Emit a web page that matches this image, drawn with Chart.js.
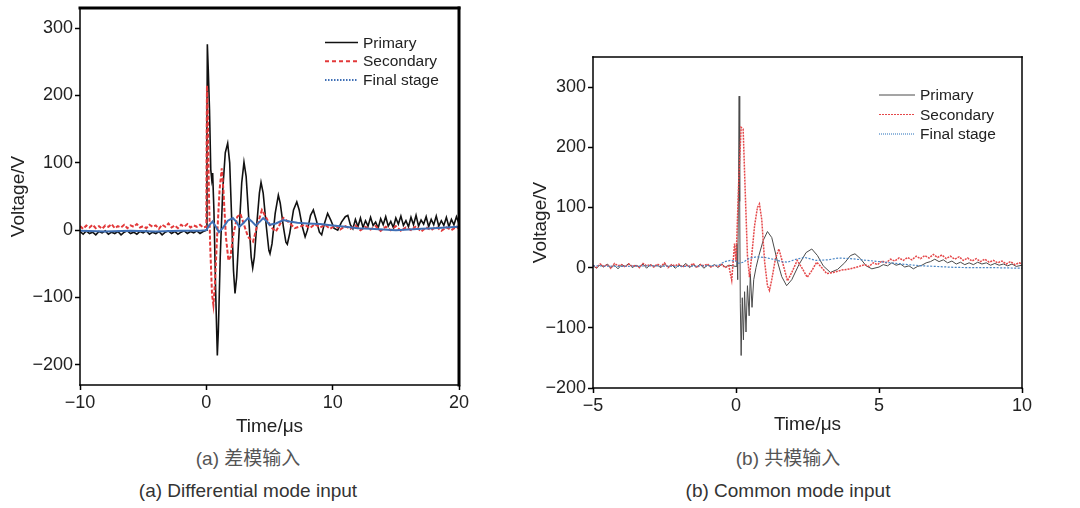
<!DOCTYPE html>
<html>
<head>
<meta charset="utf-8">
<script src="https://cdn.jsdelivr.net/npm/chart.js@4.4.1/dist/chart.umd.min.js"></script>
<style>
  body { margin: 0; background: #fff; width: 1080px; height: 508px; position: relative; overflow: hidden;
         font-family: "Liberation Sans", Arial, sans-serif; }
  #boxA { position: absolute; left: 0; top: 0; }
  #boxB { position: absolute; left: 520px; top: 0; }
  .cap { position: absolute; width: 440px; text-align: center; font-size: 19px; color: #333; line-height: 22px; }
  .zh { font-family: "Liberation Sans", "Noto Sans CJK SC", sans-serif; color: #555; }
</style>
</head>
<body>
<canvas id="boxA" width="470" height="440"></canvas>
<canvas id="boxB" width="560" height="440"></canvas>
<div class="cap zh" style="left:28px; top:448px;">(a) 差模输入</div>
<div class="cap" style="left:28px; top:480px;">(a) Differential mode input</div>
<div class="cap zh" style="left:568px; top:448px;">(b) 共模输入</div>
<div class="cap" style="left:568px; top:480px;">(b) Common mode input</div>
<script>
// Noms des séries et graduations
const seriesNames = ['Primary', 'Secondary', 'Final stage'];
const diffTicksX = [-10, 0, 10, 20];
const diffTicksY = [-200, -100, 0, 100, 200, 300];
const commTicksX = [-5, 0, 5, 10];
const commTicksY = [-200, -100, 0, 100, 200, 300];

// (a) Differential mode - Primary
const diffPrimaryT = [-10, -9.75, -9.5, -9.25, -9, -8.75, -8.5, -8.25, -8, -7.75, -7.5, -7.25, -7, -6.75, -6.5, -6.25, -6, -5.75, -5.5, -5.25,
  -5, -4.75, -4.5, -4.25, -4, -3.75, -3.5, -3.25, -3, -2.75, -2.5, -2.25, -2, -1.75, -1.5, -1.25, -1, -0.75, -0.5, -0.25,
  0, 0.05, 0.08, 0.15, 0.25, 0.35, 0.43, 0.5, 0.6, 0.75, 0.87, 0.95, 1.1, 1.3, 1.5, 1.69, 1.85, 2.0, 2.15, 2.27, 2.4, 2.6, 2.8, 2.98,
  3.15, 3.35, 3.55, 3.67, 3.8, 4.0, 4.2, 4.33, 4.5, 4.75, 4.95, 5.04, 5.2, 5.45, 5.7, 5.85, 6.1, 6.3, 6.41, 6.6, 6.9, 7.16, 7.35, 7.6,
  7.82, 8.0, 8.25, 8.47, 8.7, 8.95, 9.13, 9.35, 9.6, 9.85, 10.1, 10.4, 10.7, 11.0, 11.2,
  11.4, 11.6, 11.8, 12.0, 12.2, 12.4, 12.6, 12.8, 13.0, 13.2, 13.4, 13.6, 13.8, 14.0, 14.2, 14.4, 14.6, 14.8, 15.0, 15.2, 15.4, 15.6,
  15.8, 16.0, 16.2, 16.4, 16.6, 16.8, 17.0, 17.2, 17.4, 17.6, 17.8, 18.0, 18.2, 18.4, 18.6, 18.8, 19.0, 19.2, 19.4, 19.6, 19.8, 20];
const diffPrimaryV = [-2, -6, -1, -5, -3, -7, -2, -4, -1, -6, -3, -5, -2, -7, -3, -1, -5, -3, -6, -2,
  -4, -1, -6, -3, -5, -2, -7, -3, -1, -5, -2, -6, -3, -1, -5, -2, -4, -1, -5, -2,
  0, 150, 276, 240, 180, 90, 75, 85, 30, -100, -186, -150, -40, 60, 115, 129, 100, 20, -60, -94, -70, 0, 70, 101,
  80, 20, -40, -56, -40, 10, 55, 71, 55, 5, -30, -35, -20, 25, 52, 40, 5, -18, -21, -5, 30, 42, 30, 5,
  -10, 0, 22, 30, 15, -3, -7, 10, 25, 15, 3, 0, 12, 20, 22,
  8, 2, 16, 5, 18, 4, 14, 6, 19, 7, 12, 3, 17, 8, 20, 6, 13, 4, 18, 9, 21, 7,
  14, 5, 19, 8, 22, 6, 15, 9, 20, 5, 16, 8, 21, 6, 14, 7, 19, 5, 16, 8, 20, 10];

// (a) Differential mode - Secondary
const diffSecondaryT = [-10, -9.75, -9.5, -9.25, -9, -8.75, -8.5, -8.25, -8, -7.75, -7.5, -7.25, -7, -6.75, -6.5, -6.25, -6, -5.75, -5.5, -5.25,
  -5, -4.75, -4.5, -4.25, -4, -3.75, -3.5, -3.25, -3, -2.75, -2.5, -2.25, -2, -1.75, -1.5, -1.25, -1, -0.75, -0.5, -0.25,
  0, 0.02, 0.05, 0.12, 0.2, 0.3, 0.45, 0.56, 0.68, 0.85, 1.05, 1.22, 1.35, 1.55, 1.75, 1.9, 2.15, 2.45, 2.7, 2.95, 3.3, 3.7,
  4.0, 4.4, 4.7, 5.1, 5.5, 5.8, 6.1, 6.5, 7.0, 7.5,
  7.8, 8.2, 8.6, 9.0, 9.4, 9.8, 10.2, 10.6, 11.0, 11.4, 11.8, 12.2, 12.6, 13.0, 13.4, 13.8, 14.2, 14.6, 15.0, 15.4, 15.8,
  16.2, 16.6, 17.0, 17.4, 17.8, 18.2, 18.6, 19.0, 19.4, 19.8, 20];
const diffSecondaryV = [6, 2, 7, 4, 8, 3, 6, 2, 7, 5, 9, 3, 6, 4, 8, 3, 7, 5, 9, 4,
  6, 3, 8, 5, 7, 2, 8, 5, 10, 4, 7, 3, 8, 5, 9, 4, 7, 5, 8, 4,
  5, 120, 215, 170, 60, -20, -95, -111, -80, -10, 60, 92, 60, -10, -45, -40, -5, 20, 24, 10, -10, -17,
  5, 30, 20, 5, -2, 8, 18, 12, 3, 6,
  8, 3, 9, 4, 8, 2, 7, 1, 6, 2, 7, 0, 5, 1, 6, -1, 5, 0, 6, -1, 4,
  0, 6, -2, 4, 0, 5, -1, 4, 0, 5, 2];

// (a) Differential mode - Final stage
const diffFinalT = [-10, -8, -6, -4, -2, -0.5, 0, 0.25, 0.5, 0.75, 1.0, 1.3, 1.7, 2.1, 2.4, 2.6, 2.9, 3.3, 3.6, 3.9, 4.2, 4.5, 4.8,
  5.0, 5.5, 6.1, 6.6, 7.2, 8, 9, 10, 11, 12, 13, 14, 15, 16, 17, 18, 19, 20];
const diffFinalV = [-1, -2, -1, -2, -1, -1, 0, 8, 13, 5, -3, 3, 14, 18, 12, 5, 10, 18, 13, 7, 12, 18, 13,
  8, 10, 15, 13, 11, 10, 9, 7, 5, 3, 2, 1, 0, 1, 2, 3, 4, 5];

// (b) Common mode - Primary
const commPrimaryT = [-5, -4.875, -4.75, -4.625, -4.5, -4.375, -4.25, -4.125, -4, -3.875, -3.75, -3.625, -3.5, -3.375, -3.25, -3.125,
  -3, -2.875, -2.75, -2.625, -2.5, -2.375, -2.25, -2.125, -2, -1.875, -1.75, -1.625, -1.5, -1.375, -1.25, -1.125,
  -1, -0.875, -0.75, -0.625, -0.5, -0.375, -0.25, -0.125,
  0, 0.03, 0.06, 0.09, 0.11, 0.13, 0.15, 0.18, 0.22, 0.26, 0.3, 0.35, 0.4, 0.46, 0.5, 0.56, 0.62, 0.7, 0.8, 0.95, 1.1, 1.25, 1.45,
  1.6, 1.77, 1.95, 2.2, 2.45, 2.65, 2.85, 3.05, 3.3, 3.55, 3.8, 4.0, 4.16, 4.35, 4.55, 4.75,
  5.0, 5.15, 5.3, 5.45, 5.6, 5.75, 5.9, 6.05, 6.2, 6.35, 6.5, 6.65, 6.8, 6.95, 7.1, 7.25, 7.4, 7.55, 7.7, 7.85,
  8.0, 8.15, 8.3, 8.45, 8.6, 8.75, 8.9, 9.05, 9.2, 9.35, 9.5, 9.65, 9.8, 10];
const commPrimaryV = [3, -1, 5, 1, 6, 0, 4, -2, 5, 2, 7, 0, 4, 1, 6, -1,
  5, 2, 4, 0, 6, 1, 5, -1, 4, 2, 7, 0, 5, 1, 6, -1,
  4, 2, 5, 0, 6, 1, 4, 3,
  2, 40, -20, 150, 285, 110, -60, -146, -50, -120, -40, -107, -30, -80, -10, -66, -20, 0, 20, 45, 60, 50, 10,
  -15, -30, -20, 5, 25, 31, 20, 3, -8, -3, 8, 20, 23, 15, 3, -2,
  1, 5, 3, 8, 4, 6, 1, 3, -2, 2, 4, 8, 10, 14, 10, 13, 8, 11, 6, 9,
  5, 8, 5, 9, 6, 8, 4, 7, 4, 6, 3, 6, 2, 4];

// (b) Common mode - Secondary
const commSecondaryT = [-5, -4.875, -4.75, -4.625, -4.5, -4.375, -4.25, -4.125, -4, -3.875, -3.75, -3.625, -3.5, -3.375, -3.25, -3.125,
  -3, -2.875, -2.75, -2.625, -2.5, -2.375, -2.25, -2.125, -2, -1.875, -1.75, -1.625, -1.5, -1.375, -1.25, -1.125,
  -1, -0.875, -0.75, -0.625, -0.5, -0.375, -0.25,
  -0.15, -0.05, 0, 0.1, 0.18, 0.25, 0.32, 0.4, 0.47, 0.55, 0.65, 0.75, 0.82, 0.9, 1.0, 1.1, 1.17, 1.25, 1.38, 1.5, 1.62,
  1.8, 1.95, 2.14, 2.3, 2.49, 2.65, 2.82, 3.0, 3.17, 3.4, 3.7, 4.0, 4.3,
  4.5, 4.65, 4.8, 4.95, 5.1, 5.25, 5.4, 5.55, 5.7, 5.85, 6.0, 6.15, 6.3, 6.45, 6.6, 6.75, 6.9, 7.05, 7.2, 7.35,
  7.5, 7.65, 7.8, 7.95, 8.1, 8.25, 8.4, 8.55, 8.7, 8.85, 9.0, 9.15, 9.3, 9.45, 9.6, 9.75, 9.9, 10];
const commSecondaryV = [4, 0, 6, 2, 5, -1, 7, 3, 5, 1, 6, 2, 4, 0, 7, 3,
  5, 1, 6, 2, 8, 0, 5, 3, 6, 1, 4, 2, 7, 0, 5, 3,
  6, 1, 4, 2, 5, 0, 3,
  -21, 40, 10, 150, 233, 230, 130, 20, -16, 20, 70, 100, 106, 80, 10, -30, -38, -20, 15, 31, 10,
  -22, -8, 12, 0, -16, -5, 9, 0, -10, -8, -4, -2, 2,
  5, 2, 8, 5, 11, 8, 14, 11, 16, 12, 17, 13, 19, 15, 20, 16, 22, 17, 21, 15,
  19, 14, 18, 12, 16, 11, 15, 10, 14, 9, 12, 8, 11, 6, 10, 5, 8, 6];

// (b) Common mode - Final stage
const commFinalT = [-5, -4, -3, -2, -1, -0.6, -0.4, -0.2, 0, 0.1, 0.25, 0.45, 0.7, 1.0, 1.3, 1.6, 1.8, 2.1, 2.4, 2.8, 3.2, 3.6,
  4.0, 4.4, 4.8, 5.2, 5.6, 6.0, 6.5, 7.0, 7.6, 8.2, 9.0, 10];
const commFinalV = [3, 2, 3, 2, 3, 4, 10, 12, 11, 7, 9, 15, 18, 17, 14, 10, 9, 14, 17, 12, 13, 16,
  15, 13, 11, 9, 7, 5, 3, 2, 0.5, 0, 0, -1];

const toPoints = (T, V) => T.map((t, i) => ({ x: t, y: V[i] }));
const minus = v => String(v).replace('-', '\u2212');

// Cadre autour de la zone de tracé
const framePlugin = {
  id: 'frame',
  afterDatasetsDraw(chart, args, opts) {
    const { ctx, chartArea: a } = chart;
    const side = (w, x1, y1, x2, y2) => {
      ctx.lineWidth = w;
      ctx.beginPath();
      ctx.moveTo(x1, y1);
      ctx.lineTo(x2, y2);
      ctx.stroke();
    };
    ctx.save();
    ctx.strokeStyle = '#000';
    ctx.lineCap = 'square';
    side(opts.left, a.left, a.top, a.left, a.bottom);
    side(opts.bottom, a.left, a.bottom, a.right, a.bottom);
    side(opts.top, a.left, a.top, a.right, a.top);
    side(opts.right, a.right, a.top, a.right, a.bottom);
    ctx.restore();
  }
};

// Légende dessinée dans la zone de tracé
const insideLegend = {
  id: 'insideLegend',
  afterDraw(chart, args, opts) {
    const { ctx, chartArea: a } = chart;
    ctx.save();
    ctx.font = opts.font;
    ctx.textBaseline = 'middle';
    chart.data.datasets.forEach((ds, i) => {
      const y = a.top + opts.y + i * opts.gap;
      const x = a.left + opts.x;
      ctx.strokeStyle = ds.borderColor;
      ctx.lineWidth = opts.lineWidths[i];
      ctx.setLineDash(opts.dashes[i]);
      ctx.beginPath();
      ctx.moveTo(x, y);
      ctx.lineTo(x + opts.len, y);
      ctx.stroke();
      ctx.setLineDash([]);
      ctx.fillStyle = '#222';
      ctx.fillText(ds.label, x + opts.len + 5, y + 1);
    });
    ctx.restore();
  }
};

function makeChart(id, o) {
  const tickFont = { family: 'Liberation Sans, Arial, sans-serif', size: 18 };
  const titleFont = { family: 'Liberation Sans, Arial, sans-serif', size: 19 };
  return new Chart(document.getElementById(id), {
    type: 'line',
    data: {
      datasets: o.series.map((s, i) => ({
        label: seriesNames[i],
        data: toPoints(s.T, s.V),
        borderColor: s.color,
        borderWidth: s.width,
        borderDash: s.dash,
        pointRadius: 0,
        tension: 0,
        order: 3 - i
      }))
    },
    options: {
      responsive: false,
      animation: false,
      events: [],
      layout: { padding: o.padding },
      plugins: {
        legend: { display: false },
        tooltip: { enabled: false },
        frame: o.frame,
        insideLegend: o.legend
      },
      scales: {
        x: {
          type: 'linear',
          min: o.xTicks[0],
          max: o.xTicks[o.xTicks.length - 1],
          afterBuildTicks: axis => { axis.ticks = o.xTicks.map(v => ({ value: v })); },
          afterFit: axis => { axis.height = o.xAxisHeight; axis.paddingLeft = 0; axis.paddingRight = 0; },
          border: { display: false },
          grid: { drawOnChartArea: false, drawTicks: true, tickLength: 5, tickWidth: 1.5, color: '#000' },
          ticks: { color: '#222', font: tickFont, padding: 2, maxRotation: 0, callback: v => minus(v) },
          title: { display: true, text: 'Time/\u03bcs', color: '#222', font: titleFont, padding: { top: 0, bottom: o.xTitlePad } }
        },
        y: {
          min: o.yMin,
          max: o.yMax,
          afterBuildTicks: axis => { axis.ticks = o.yTicks.map(v => ({ value: v })); },
          afterFit: axis => { axis.width = o.yAxisWidth; axis.paddingTop = 0; axis.paddingBottom = 0; },
          border: { display: false },
          grid: { drawOnChartArea: false, drawTicks: true, tickLength: 5, tickWidth: 1.5, color: '#000' },
          ticks: { color: '#222', font: tickFont, padding: 2, callback: v => minus(v) },
          title: { display: true, text: 'Voltage/V', color: '#222', font: titleFont, padding: { top: o.yTitlePad, bottom: 0 } }
        }
      }
    },
    plugins: [framePlugin, insideLegend]
  });
}

makeChart('boxA', {
  series: [
    { T: diffPrimaryT, V: diffPrimaryV, color: '#111111', width: 1.6, dash: [] },
    { T: diffSecondaryT, V: diffSecondaryV, color: '#e2393a', width: 2, dash: [4, 2] },
    { T: diffFinalT, V: diffFinalV, color: '#3f6fb5', width: 2, dash: [] }
  ],
  xTicks: diffTicksX, yTicks: diffTicksY, yMin: -230, yMax: 330,
  padding: { top: 8, right: 11, left: 0, bottom: 0 },
  xAxisHeight: 55, yAxisWidth: 80, yTitlePad: 7, xTitlePad: 2,
  frame: { left: 1.5, bottom: 1.5, top: 3, right: 3 },
  legend: { x: 245, y: 34.5, gap: 18.7, len: 33, font: '15.5px "Liberation Sans", Arial, sans-serif',
            lineWidths: [1.5, 2, 2], dashes: [[], [4, 3], [1.5, 1.5]] }
});

makeChart('boxB', {
  series: [
    { T: commPrimaryT, V: commPrimaryV, color: '#4a4a4a', width: 1, dash: [] },
    { T: commSecondaryT, V: commSecondaryV, color: '#e5484a', width: 1.5, dash: [2, 1] },
    { T: commFinalT, V: commFinalV, color: '#4a86c5', width: 1.2, dash: [2, 1.5] }
  ],
  xTicks: commTicksX, yTicks: commTicksY, yMin: -200, yMax: 350,
  padding: { top: 57, right: 58, left: 0, bottom: 0 },
  xAxisHeight: 52, yAxisWidth: 73, yTitlePad: 9, xTitlePad: 4,
  frame: { left: 1.5, bottom: 1.5, top: 1.5, right: 1.5 },
  legend: { x: 286, y: 38, gap: 19.5, len: 36, font: '15.5px "Liberation Sans", Arial, sans-serif',
            lineWidths: [1, 1, 1.2], dashes: [[], [2, 1], [1, 1]] }
});
</script>
</body>
</html>
